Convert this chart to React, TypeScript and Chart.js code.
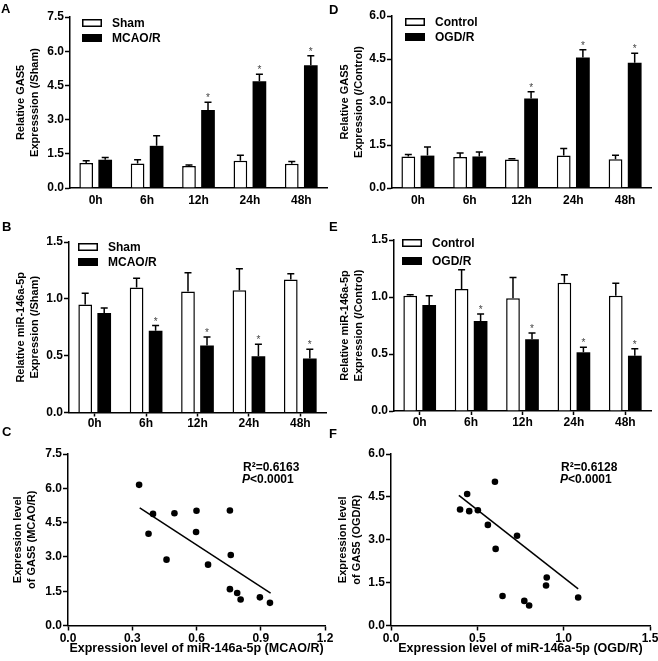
import React, { useEffect, useRef } from 'react';
import { Chart, registerables } from 'chart.js';

Chart.register(...registerables);

const FONT = "'Liberation Sans', Arial, Helvetica, sans-serif";
Chart.defaults.font.family = FONT;
Chart.defaults.color = '#000';

// ---------- data ----------
const TIMES = ['0h', '6h', '12h', '24h', '48h'];

// Panel A (in vivo GAS5)
const A_SHAM = [1.1, 1.08, 0.97, 1.2, 1.06];
const A_SHAM_ERR = [0.09, 0.16, 0.04, 0.24, 0.1];
const A_MCAO = [1.24, 1.85, 3.42, 4.68, 5.38];
const A_MCAO_ERR = [0.1, 0.44, 0.34, 0.31, 0.42];
const A_SIG = [false, false, true, true, true];

// Panel D (in vitro GAS5)
const D_CTRL = [1.1, 1.08, 0.99, 1.13, 1.0];
const D_CTRL_ERR = [0.07, 0.14, 0.03, 0.25, 0.14];
const D_OGD = [1.13, 1.1, 3.12, 4.55, 4.37];
const D_OGD_ERR = [0.3, 0.16, 0.24, 0.27, 0.33];
const D_SIG = [false, false, true, true, true];

// Panel B (in vivo miR-146a-5p)
const B_SHAM = [0.95, 1.1, 1.065, 1.075, 1.17];
const B_SHAM_ERR = [0.1, 0.08, 0.165, 0.19, 0.05];
const B_MCAO = [0.875, 0.72, 0.59, 0.495, 0.476];
const B_MCAO_ERR = [0.045, 0.045, 0.075, 0.105, 0.08];
const B_SIG = [false, true, true, true, true];

// Panel E (in vitro miR-146a-5p)
const E_CTRL = [1.01, 1.07, 0.99, 1.125, 1.01];
const E_CTRL_ERR = [0.01, 0.17, 0.18, 0.07, 0.11];
const E_OGD = [0.93, 0.79, 0.63, 0.515, 0.485];
const E_OGD_ERR = [0.08, 0.06, 0.055, 0.045, 0.06];
const E_SIG = [false, true, true, true, true];

// Panel C scatter (MCAO/R)
const C_X = [0.332, 0.397, 0.376, 0.46, 0.497, 0.6, 0.598, 0.654, 0.756, 0.76, 0.756, 0.79, 0.806, 0.896, 0.943];
const C_Y = [6.15, 4.88, 4.01, 2.88, 4.91, 5.02, 4.09, 2.66, 5.03, 3.08, 1.59, 1.42, 1.14, 1.23, 0.99];
const C_FIT_X = [0.335, 0.946];
const C_FIT_Y = [5.14, 1.42];
const C_R2 = 'R\u00B2=0.6163';

// Panel F scatter (OGD/R)
const F_X = [0.4, 0.441, 0.453, 0.503, 0.561, 0.602, 0.606, 0.73, 0.646, 0.772, 0.8, 0.902, 0.898, 1.084];
const F_Y = [4.06, 4.6, 4.0, 4.03, 3.52, 5.03, 2.68, 3.14, 1.03, 0.86, 0.7, 1.68, 1.4, 0.98];
const F_FIT_X = [0.393, 1.084];
const F_FIT_Y = [4.55, 1.28];
const F_R2 = 'R\u00B2=0.6128';

const P_REST = '<0.0001';

// ---------- layout ----------
type Box = { cx: number; cy: number; cw: number; ch: number; L: number; T: number; R: number; B: number };

const A_BOX: Box = { cx: 0, cy: 0, cw: 329, ch: 215, L: 70, T: 17, R: 327, B: 188 };
const D_BOX: Box = { cx: 329, cy: 0, cw: 329, ch: 215, L: 392, T: 16, R: 651, B: 188 };
const B_BOX: Box = { cx: 0, cy: 215, cw: 329, ch: 215, L: 69, T: 242, R: 326, B: 412.5 };
const E_BOX: Box = { cx: 329, cy: 215, cw: 329, ch: 215, L: 394, T: 240, R: 651, B: 411 };
const C_BOX: Box = { cx: 0, cy: 420, cw: 345, ch: 241, L: 68, T: 454, R: 325, B: 625.5 };
const F_BOX: Box = { cx: 329, cy: 420, cw: 329, ch: 241, L: 391, T: 454, R: 650, B: 625.5 };

function frame(box: Box) {
  return {
    padding: { top: box.T - box.cy, right: box.cx + box.cw - box.R, bottom: 0, left: 0 },
    yW: box.L - box.cx,
    xH: box.cy + box.ch - box.B,
  };
}

const fixY = (w: number) => (s: any) => {
  s.width = w;
  s.paddingTop = 0; s.paddingBottom = 0; s.paddingLeft = 0; s.paddingRight = 0;
};
const fixX = (h: number) => (s: any) => {
  s.height = h;
  s.paddingTop = 0; s.paddingBottom = 0; s.paddingLeft = 0; s.paddingRight = 0;
};

const oneDec = (v: any) => Number(v).toFixed(1);

// ---------- plugins ----------
function letterPlugin(letter: string, x: number, y: number) {
  return {
    id: 'panelLetter',
    afterDraw(chart: any) {
      const ctx = chart.ctx;
      ctx.save();
      ctx.font = `bold 13px ${FONT}`;
      ctx.fillStyle = '#000';
      ctx.textAlign = 'left';
      ctx.textBaseline = 'middle';
      ctx.fillText(letter, x, y);
      ctx.restore();
    },
  };
}

function errorPlugin(errs: number[][], sig: boolean[]) {
  return {
    id: 'errBars',
    afterDatasetsDraw(chart: any) {
      const ctx = chart.ctx;
      const ys = chart.scales.y;
      ctx.save();
      errs.forEach((arr, di) => {
        const meta = chart.getDatasetMeta(di);
        const vals = chart.data.datasets[di].data;
        meta.data.forEach((el: any, j: number) => {
          const top = ys.getPixelForValue(vals[j] + arr[j]);
          ctx.strokeStyle = '#000';
          ctx.lineWidth = 1.5;
          ctx.beginPath();
          ctx.moveTo(el.x, el.y);
          ctx.lineTo(el.x, top);
          ctx.moveTo(el.x - 3.5, top);
          ctx.lineTo(el.x + 3.5, top);
          ctx.stroke();
          if (di === 1 && sig[j]) {
            ctx.font = `10px ${FONT}`;
            ctx.fillStyle = '#444';
            ctx.textAlign = 'center';
            ctx.textBaseline = 'alphabetic';
            ctx.fillText('*', el.x, top - 1);
          }
        });
      });
      ctx.restore();
    },
  };
}

function legendPlugin(dx: number, dy: number, gap: number) {
  return {
    id: 'boxLegend',
    afterDraw(chart: any) {
      const { left, top } = chart.chartArea;
      const ctx = chart.ctx;
      ctx.save();
      chart.data.datasets.forEach((ds: any, i: number) => {
        const x = left + dx;
        const y = top + dy + i * gap;
        if (i === 0) {
          ctx.fillStyle = '#fff';
          ctx.fillRect(x, y, 20, 8);
          ctx.strokeStyle = '#000';
          ctx.lineWidth = 1.5;
          ctx.strokeRect(x + 0.75, y + 0.75, 18.5, 6.5);
        } else {
          ctx.fillStyle = '#000';
          ctx.fillRect(x, y, 20, 8);
        }
        ctx.font = `bold 12px ${FONT}`;
        ctx.fillStyle = '#000';
        ctx.textAlign = 'left';
        ctx.textBaseline = 'middle';
        ctx.fillText(ds.label, x + 30, y + 4.5);
      });
      ctx.restore();
    },
  };
}

function statsPlugin(r2: string, dx: number, dy: number) {
  return {
    id: 'stats',
    afterDraw(chart: any) {
      const { left, top } = chart.chartArea;
      const ctx = chart.ctx;
      ctx.save();
      ctx.fillStyle = '#000';
      ctx.textAlign = 'left';
      ctx.textBaseline = 'middle';
      ctx.font = `bold 12px ${FONT}`;
      ctx.fillText(r2, left + dx, top + dy);
      ctx.font = `italic bold 12px ${FONT}`;
      ctx.fillText('P', left + dx - 1, top + dy + 12);
      const w = ctx.measureText('P').width;
      ctx.font = `bold 12px ${FONT}`;
      ctx.fillText(P_REST, left + dx - 1 + w, top + dy + 12);
      ctx.restore();
    },
  };
}

// ---------- chart builders ----------
interface BarSpec {
  box: Box;
  letter: [string, number, number];
  names: [string, string];
  ctrl: number[]; ctrlErr: number[];
  treat: number[]; treatErr: number[];
  sig: boolean[];
  yMax: number; yStep: number;
  yTitle: string[]; titlePad: number;
  xTicks: boolean;
  legend: [number, number, number];
}

const axisFont = { size: 12, weight: 'bold' as const };

function barConfig(s: BarSpec): any {
  const f = frame(s.box);
  const common = { categoryPercentage: 0.74, barPercentage: 0.72 };
  return {
    type: 'bar',
    data: {
      labels: TIMES,
      datasets: [
        { label: s.names[0], data: s.ctrl, backgroundColor: '#fff', borderColor: '#000', borderWidth: 1.5, borderSkipped: 'bottom', ...common },
        { label: s.names[1], data: s.treat, backgroundColor: '#000', borderColor: '#000', borderWidth: 0, ...common },
      ],
    },
    options: {
      responsive: false,
      animation: false,
      devicePixelRatio: 1,
      layout: { padding: f.padding },
      plugins: { legend: { display: false }, tooltip: { enabled: false } },
      scales: {
        x: {
          offset: true,
          z: 1,
          afterFit: fixX(f.xH),
          grid: { offset: false, drawOnChartArea: false, drawTicks: s.xTicks, tickLength: 4, tickWidth: 1.5, tickColor: '#000' },
          border: { color: '#000', width: 1.5 },
          ticks: { font: axisFont, color: '#000', padding: s.xTicks ? 0 : 5, maxRotation: 0 },
        },
        y: {
          min: 0,
          max: s.yMax,
          z: 1,
          afterFit: fixY(f.yW),
          ticks: { stepSize: s.yStep, callback: oneDec, font: axisFont, color: '#000', padding: 1 },
          grid: { drawOnChartArea: false, tickLength: 5, tickWidth: 1.5, tickColor: '#000' },
          border: { color: '#000', width: 1.5 },
          title: {
            display: true,
            text: s.yTitle,
            color: '#000',
            font: { size: 11, weight: 'bold', lineHeight: '14px' },
            padding: { top: s.titlePad, bottom: 0 },
          },
        },
      },
    },
    plugins: [
      errorPlugin([s.ctrlErr, s.treatErr], s.sig),
      legendPlugin(s.legend[0], s.legend[1], s.legend[2]),
      letterPlugin(s.letter[0], s.letter[1], s.letter[2]),
    ],
  };
}

interface ScatterSpec {
  box: Box;
  letter: [string, number, number];
  xs: number[]; ys: number[];
  fitX: number[]; fitY: number[];
  xMax: number; xStep: number;
  yMax: number; yStep: number;
  xTitle: string; yTitle: string[]; titlePad: number;
  r2: string; statsAt: [number, number];
}

function scatterConfig(s: ScatterSpec): any {
  const f = frame(s.box);
  return {
    type: 'scatter',
    data: {
      datasets: [
        {
          label: 'points',
          data: s.xs.map((x, i) => ({ x, y: s.ys[i] })),
          pointRadius: 3.3,
          pointBackgroundColor: '#000',
          pointBorderWidth: 0,
          backgroundColor: '#000',
          borderColor: '#000',
        },
        {
          label: 'fit',
          data: s.fitX.map((x, i) => ({ x, y: s.fitY[i] })),
          showLine: true,
          pointRadius: 0,
          borderColor: '#000',
          borderWidth: 1.5,
        },
      ],
    },
    options: {
      responsive: false,
      animation: false,
      devicePixelRatio: 1,
      clip: false,
      layout: { padding: f.padding },
      plugins: { legend: { display: false }, tooltip: { enabled: false } },
      scales: {
        x: {
          type: 'linear',
          min: 0,
          max: s.xMax,
          afterFit: fixX(f.xH),
          ticks: { stepSize: s.xStep, callback: oneDec, font: axisFont, color: '#000', padding: 1, maxRotation: 0 },
          grid: { drawOnChartArea: false, tickLength: 5, tickWidth: 1.5, tickColor: '#000' },
          border: { color: '#000', width: 1.5 },
          title: {
            display: true,
            text: s.xTitle,
            color: '#000',
            font: { size: 12.5, weight: 'bold', lineHeight: '15px' },
            padding: { top: 0, bottom: 4.5 },
          },
        },
        y: {
          type: 'linear',
          min: 0,
          max: s.yMax,
          afterFit: fixY(f.yW),
          ticks: { stepSize: s.yStep, callback: oneDec, font: axisFont, color: '#000', padding: 1 },
          grid: { drawOnChartArea: false, tickLength: 5, tickWidth: 1.5, tickColor: '#000' },
          border: { color: '#000', width: 1.5 },
          title: {
            display: true,
            text: s.yTitle,
            color: '#000',
            font: { size: 11, weight: 'bold', lineHeight: '14px' },
            padding: { top: s.titlePad, bottom: 0 },
          },
        },
      },
    },
    plugins: [
      statsPlugin(s.r2, s.statsAt[0], s.statsAt[1]),
      letterPlugin(s.letter[0], s.letter[1], s.letter[2]),
    ],
  };
}

// ---------- components ----------
function ChartBox({ box, build }: { box: Box; build: () => any }) {
  const ref = useRef<HTMLCanvasElement>(null);
  useEffect(() => {
    const chart = new Chart(ref.current as HTMLCanvasElement, build());
    return () => chart.destroy();
  }, []);
  return (
    <canvas
      ref={ref}
      width={box.cw}
      height={box.ch}
      style={{ position: 'absolute', left: box.cx, top: box.cy, width: box.cw, height: box.ch }}
    />
  );
}

export default function App() {
  return (
    <div style={{ position: 'absolute', left: 0, top: 0, width: 658, height: 661, background: '#fff', overflow: 'hidden' }}>
      <ChartBox
        box={A_BOX}
        build={() =>
          barConfig({
            box: A_BOX, letter: ['A', 1, 9], names: ['Sham', 'MCAO/R'],
            ctrl: A_SHAM, ctrlErr: A_SHAM_ERR, treat: A_MCAO, treatErr: A_MCAO_ERR, sig: A_SIG,
            yMax: 7.5, yStep: 1.5, yTitle: ['Relative GAS5', 'Expresssion (/Sham)'], titlePad: 14,
            xTicks: false, legend: [12, 2, 15],
          })
        }
      />
      <ChartBox
        box={D_BOX}
        build={() =>
          barConfig({
            box: D_BOX, letter: ['D', 0, 10], names: ['Control', 'OGD/R'],
            ctrl: D_CTRL, ctrlErr: D_CTRL_ERR, treat: D_OGD, treatErr: D_OGD_ERR, sig: D_SIG,
            yMax: 6, yStep: 1.5, yTitle: ['Relative GAS5', 'Expression (/Control)'], titlePad: 9,
            xTicks: false, legend: [13, 2, 15],
          })
        }
      />
      <ChartBox
        box={B_BOX}
        build={() =>
          barConfig({
            box: B_BOX, letter: ['B', 2, 12], names: ['Sham', 'MCAO/R'],
            ctrl: B_SHAM, ctrlErr: B_SHAM_ERR, treat: B_MCAO, treatErr: B_MCAO_ERR, sig: B_SIG,
            yMax: 1.5, yStep: 0.5, yTitle: ['Relative miR-146a-5p', 'Expression (/Sham)'], titlePad: 14,
            xTicks: true, legend: [9, 1, 15],
          })
        }
      />
      <ChartBox
        box={E_BOX}
        build={() =>
          barConfig({
            box: E_BOX, letter: ['E', 0, 12], names: ['Control', 'OGD/R'],
            ctrl: E_CTRL, ctrlErr: E_CTRL_ERR, treat: E_OGD, treatErr: E_OGD_ERR, sig: E_SIG,
            yMax: 1.5, yStep: 0.5, yTitle: ['Relative miR-146a-5p', 'Expression (/Control)'], titlePad: 9,
            xTicks: true, legend: [8, -1, 18],
          })
        }
      />
      <ChartBox
        box={C_BOX}
        build={() =>
          scatterConfig({
            box: C_BOX, letter: ['C', 2, 12],
            xs: C_X, ys: C_Y, fitX: C_FIT_X, fitY: C_FIT_Y,
            xMax: 1.2, xStep: 0.3, yMax: 7.5, yStep: 1.5,
            xTitle: 'Expression level of miR-146a-5p (MCAO/R)',
            yTitle: ['Expression level', 'of GAS5 (MCAO/R)'], titlePad: 11,
            r2: C_R2, statsAt: [175, 14],
          })
        }
      />
      <ChartBox
        box={F_BOX}
        build={() =>
          scatterConfig({
            box: F_BOX, letter: ['F', 0, 14],
            xs: F_X, ys: F_Y, fitX: F_FIT_X, fitY: F_FIT_Y,
            xMax: 1.5, xStep: 0.5, yMax: 6, yStep: 1.5,
            xTitle: 'Expression level of miR-146a-5p (OGD/R)',
            yTitle: ['Expression level', 'of GAS5 (OGD/R)'], titlePad: 7,
            r2: F_R2, statsAt: [170, 14],
          })
        }
      />
    </div>
  );
}
